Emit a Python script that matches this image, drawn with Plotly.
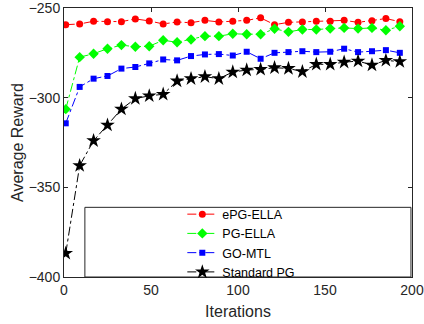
import plotly.graph_objects as go

iterations = list(range(1, 200, 8))
epg_ella = [-259.3, -258.9, -257.4, -257.6, -257.6, -256.1, -257.2, -258.9, -257.8, -258.2, -256.9, -257.8, -257.4,
            -256.9, -255.5, -259.3, -258.0, -257.8, -257.4, -257.4, -256.9, -258.0, -257.1, -255.9, -257.6]
pg_ella = [-306.4, -277.4, -275.5, -272.7, -270.7, -271.6, -271.3, -268.0, -269.1, -267.6, -265.7, -265.7, -264.4,
           -264.6, -264.6, -261.6, -263.3, -262.0, -262.0, -261.5, -261.1, -261.5, -261.1, -262.4, -260.2]
go_mtl = [-314.3, -294.0, -289.4, -287.9, -283.8, -282.9, -280.9, -278.7, -279.2, -276.8, -275.9, -275.7, -276.5,
          -274.4, -278.3, -275.0, -274.6, -274.1, -274.6, -274.4, -272.7, -274.6, -274.1, -273.5, -275.0]
standard_pg = [-386.8, -337.9, -324.0, -315.3, -306.4, -300.5, -299.0, -298.1, -290.7, -289.4, -288.3, -289.4, -285.7,
               -284.6, -284.2, -283.3, -283.7, -285.5, -281.4, -281.4, -280.2, -279.6, -281.8, -279.2, -279.9]

series = [
    ("ePG-ELLA", epg_ella, "#ff0000", "circle", 7),
    ("PG-ELLA", pg_ella, "#00ff00", "diamond", 8),
    ("GO-MTL", go_mtl, "#0000ff", "square", 6),
    ("Standard PG", standard_pg, "#000000", "star", 11),
]

fig = go.Figure()
for name, vals, col, sym, size in series:
    fig.add_trace(go.Scatter(
        x=iterations, y=vals, name=name, mode="lines+markers",
        line=dict(color=col, width=1, dash="dashdot"),
        marker=dict(symbol=sym, size=size, color=col, line=dict(width=0)),
    ))

axis_common = dict(
    showline=True, linecolor="#262626", linewidth=1, mirror="ticks",
    ticks="inside", ticklen=4, tickcolor="#262626", showgrid=False, zeroline=False,
    tickfont=dict(size=14, color="#262626"), automargin=False, ticklabeloverflow="allow",
)
fig.update_xaxes(range=[0, 200], tickvals=[0, 50, 100, 150, 200],
                 title=dict(text="Iterations", font=dict(size=16, color="#262626"), standoff=9),
                 **axis_common)
fig.update_yaxes(range=[-400, -250], tickvals=[-400, -350, -300, -250],
                 title=dict(text="Average Reward", font=dict(size=16, color="#262626"), standoff=1),
                 **axis_common)

# legend box (MATLAB-style wide box)
fig.add_shape(type="rect", xref="paper", yref="paper", x0=0.06, x1=0.997, y0=0, y1=0.259,
              line=dict(color="#262626", width=1), fillcolor="white", layer="above")

fig.update_layout(
    width=424, height=324,
    margin=dict(l=64, r=12, t=8, b=47),
    paper_bgcolor="white", plot_bgcolor="white",
    font=dict(family="Liberation Sans, Arial, sans-serif", color="#262626"),
    legend=dict(x=0.34, y=0.288, xanchor="left", yanchor="top", bgcolor="rgba(0,0,0,0)",
                borderwidth=0, font=dict(size=12.5, color="#000000"), tracegroupgap=0, itemwidth=30),
)

fig.write_html("out.html")
